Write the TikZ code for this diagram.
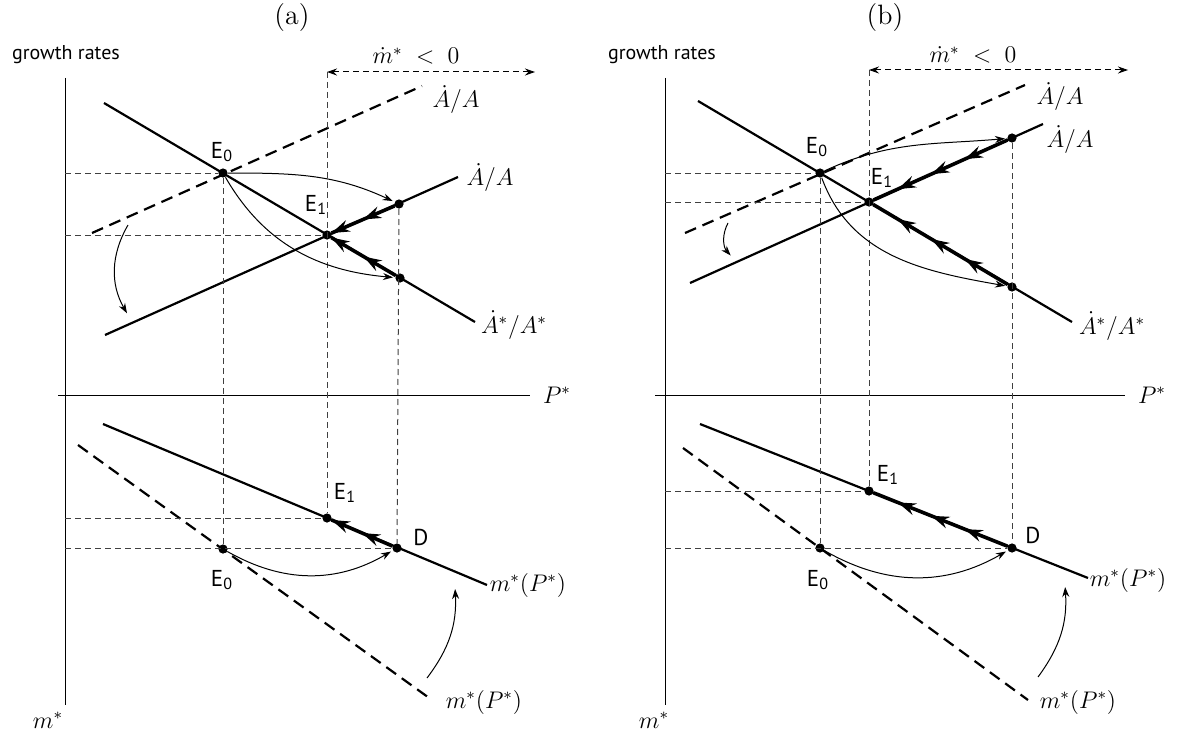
\documentclass[tikz,border=0pt]{standalone}
\usepackage{fontspec}
\setsansfont{PT Sans}
\usetikzlibrary{arrows.meta,decorations.markings}

\tikzset{
  flowtip/.tip={Stealth[length=9pt,width=6pt,inset=3pt]},
  axis/.style={line width=0.5pt},
  curve/.style={line width=1.1pt},
  oldcurve/.style={line width=1.1pt,dash pattern=on 6pt off 3.5pt},
  guide/.style={line width=0.5pt,black!75,dash pattern=on 3pt off 2pt},
  dot/.style={circle,fill,inner sep=0pt,minimum size=4.6pt},
  shiftarrow/.style={line width=0.5pt,-{Stealth[length=5pt,width=3.5pt]},shorten >=1pt},
  pt/.style={font=\sffamily\fontsize{11.5}{12}\selectfont,inner sep=1pt},
  lbl/.style={font=\fontsize{12}{13}\selectfont,inner sep=1pt},
  flowtwo/.style={line width=1.8pt,postaction={decorate},
    decoration={markings,mark=at position 0.5 with {\arrow{flowtip}},
      mark=at position 1 with {\arrow{flowtip}}}},
  flowthree/.style={line width=1.8pt,postaction={decorate},
    decoration={markings,mark=at position 0.32 with {\arrow{flowtip}},
      mark=at position 0.57 with {\arrow{flowtip}},
      mark=at position 0.82 with {\arrow{flowtip}}}}
}

\begin{document}
\begin{tikzpicture}[x=0.5pt,y=-0.5pt]
\useasboundingbox (0,0) rectangle (1182,738);

% ---------- panel (a) ----------
\node[font=\fontsize{14}{15}\selectfont] at (292,18) {(a)};
\node[font=\sffamily\fontsize{10}{12}\selectfont] at (66,55) {growth rates};
\draw[axis] (65,78) -- (65,705);
\draw[axis] (58,395) -- (530,395);
\node[lbl] at (557,395) {$P^*$};
\node[lbl] at (48,720) {$m^*$};

\coordinate (a-m) at (327,72);
\draw[guide,black,{Stealth[length=5pt,width=3.5pt]}-{Stealth[length=5pt,width=3.5pt]}] (a-m) -- (535,72);
\node[lbl] at (416,56) {$\dot m^*\;<\;0$};

\draw[oldcurve] (92,233) -- (422,86);
\node[lbl] at (456,100) {$\dot A/A$};
\draw[curve] (104,103) -- (475,322);
\node[lbl] at (514,325) {$\dot A^*/A^*$};
\draw[curve] (105,335) -- (458,177);
\node[lbl] at (490,178) {$\dot A/A$};

\node[dot] (a-E0) at (223,173) {};
\node[dot] (a-E1) at (327,235) {};
\node[dot] (a-B) at (399,204) {};
\node[dot] (a-C) at (400,278) {};
\node[pt] at (222,152) {E\textsubscript{0}};
\node[pt] at (316,205) {E\textsubscript{1}};

\draw[curve] (103,424) -- (487,585);
\node[lbl] at (528,585) {$m^*(P^*)$};
\draw[oldcurve] (78,445) -- (432,700);
\node[lbl] at (484,702) {$m^*(P^*)$};

\node[dot] (a-F0) at (223,549) {};
\node[dot] (a-F1) at (327,518) {};
\node[dot] (a-D) at (397,548) {};
\node[pt] at (222,580) {E\textsubscript{0}};
\node[pt] at (345,493) {E\textsubscript{1}};
\node[pt] at (421,537) {D};

\draw[guide] (65,173) -- (a-E0);
\draw[guide] (65,235) -- (a-E1);
\draw[guide] (65,518) -- (a-F1);
\draw[guide] (65,548) -- (a-D);
\draw[guide] (a-E0) -- (a-F0);
\draw[guide] (a-m) -- (a-F1);
\draw[guide] (a-B) -- (a-D);

\draw[flowtwo] (a-B) -- (a-E1);
\draw[flowtwo] (a-C) -- (a-E1);
\draw[flowtwo] (a-D) -- (a-F1);

\coordinate (a-s1) at (128,225);
\coordinate (a-s2) at (128,315);
\coordinate (a-t1) at (427,678);
\coordinate (a-t2) at (455,587);
\draw[shiftarrow] (a-E0) to[out=0,in=155] (a-B);
\draw[shiftarrow] (a-E0) to[out=-60,in=175] (a-C);
\draw[shiftarrow] (a-s1) to[bend right=30] (a-s2);
\draw[shiftarrow] (a-F0) to[bend right=30] (a-D);
\draw[shiftarrow] (a-t1) to[bend right=20] (a-t2);

% ---------- panel (b) ----------
\node[font=\fontsize{14}{15}\selectfont] at (885,18) {(b)};
\node[font=\sffamily\fontsize{10}{12}\selectfont] at (662,55) {growth rates};
\draw[axis] (665,78) -- (665,705);
\draw[axis] (655,395) -- (1125,395);
\node[lbl] at (1152,395) {$P^*$};
\node[lbl] at (654,720) {$m^*$};

\coordinate (b-m) at (869,70);
\draw[guide,black,{Stealth[length=5pt,width=3.5pt]}-{Stealth[length=5pt,width=3.5pt]}] (b-m) -- (1128,70);
\node[lbl] at (973,55) {$\dot m^*\;<\;0$};

\draw[oldcurve] (685,233) -- (1025,85);
\node[lbl] at (1060,97) {$\dot A/A$};
\draw[curve] (698,101) -- (1072,322);
\node[lbl] at (1112,326) {$\dot A^*/A^*$};
\draw[curve] (690,283) -- (1043,124);
\node[lbl] at (1070,140) {$\dot A/A$};

\node[dot] (b-E0) at (820,173) {};
\node[dot] (b-E1) at (869,202) {};
\node[dot] (b-B) at (1012,138) {};
\node[dot] (b-C) at (1012,287) {};
\node[pt] at (817,147) {E\textsubscript{0}};
\node[pt] at (882,178) {E\textsubscript{1}};

\draw[curve] (700,424) -- (1088,578);
\node[lbl] at (1128,580) {$m^*(P^*)$};
\draw[oldcurve] (683,448) -- (1028,700);
\node[lbl] at (1078,702) {$m^*(P^*)$};

\node[dot] (b-F0) at (820,548) {};
\node[dot] (b-F1) at (869,491) {};
\node[dot] (b-D) at (1012,548) {};
\node[pt] at (818,580) {E\textsubscript{0}};
\node[pt] at (888,475) {E\textsubscript{1}};
\node[pt] at (1033,535) {D};

\draw[guide] (665,173) -- (b-E0);
\draw[guide] (665,202) -- (b-E1);
\draw[guide] (665,491) -- (b-F1);
\draw[guide] (665,548) -- (b-D);
\draw[guide] (b-E0) -- (b-F0);
\draw[guide] (b-m) -- (b-F1);
\draw[guide] (b-B) -- (b-D);

\draw[flowthree] (b-B) -- (b-E1);
\draw[flowthree] (b-C) -- (b-E1);
\draw[flowthree] (b-D) -- (b-F1);

\coordinate (b-s1) at (728,223);
\coordinate (b-s2) at (732,257);
\coordinate (b-t1) at (1038,677);
\coordinate (b-t2) at (1065,585);
\draw[shiftarrow] (b-E0) to[out=25,in=185] (b-B);
\draw[shiftarrow] (b-E0) to[out=-70,in=170] (b-C);
\draw[shiftarrow] (b-s1) to[bend right=35] (b-s2);
\draw[shiftarrow] (b-F0) to[bend right=30] (b-D);
\draw[shiftarrow] (b-t1) to[bend right=20] (b-t2);
\end{tikzpicture}
\end{document}
